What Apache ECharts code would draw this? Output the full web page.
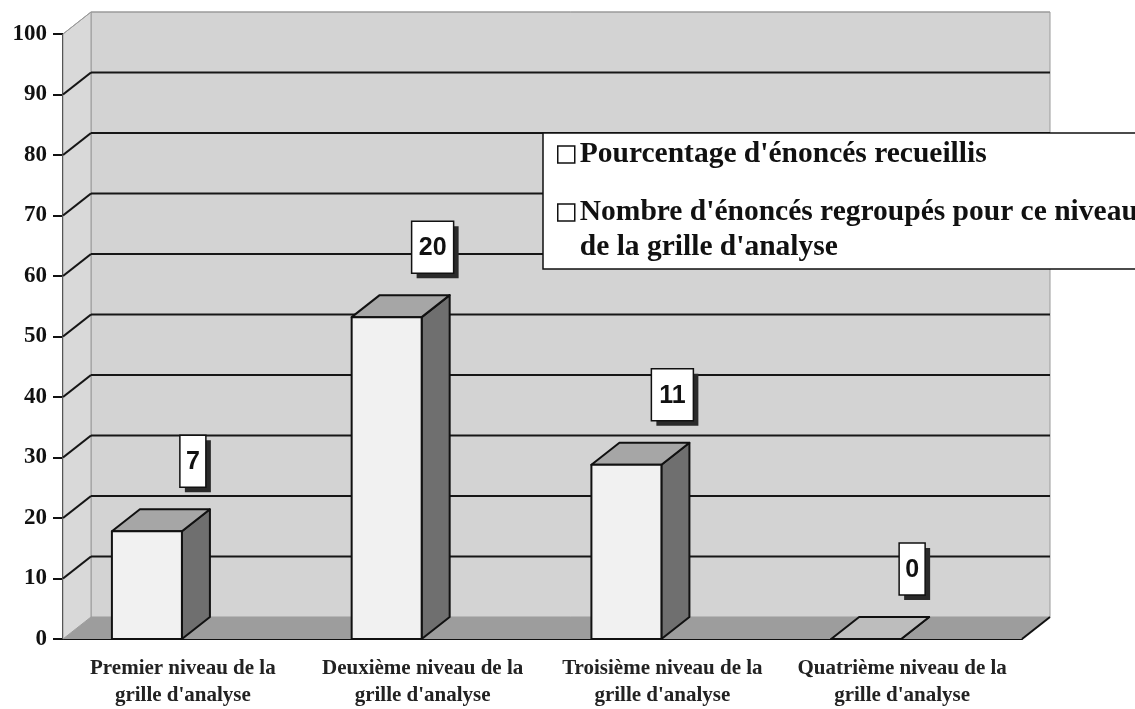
<!DOCTYPE html>
<html lang="fr">
<head>
<meta charset="UTF-8">
<title>Grille d'analyse</title>
<script src="https://cdn.jsdelivr.net/npm/echarts@6/dist/echarts.min.js"></script>
</head>
<body style="margin:0;background:#fff">
<div id="main" style="width:1135px;height:709px;"></div>
<script type="text/javascript">
// categories de l'axe x
var categories = [
    "Premier niveau de la\ngrille d'analyse",
    "Deuxième niveau de la\ngrille d'analyse",
    "Troisième niveau de la\ngrille d'analyse",
    "Quatrième niveau de la\ngrille d'analyse"
];
// hauteur des barres (%)
var pourcentages = [17.8, 53.2, 28.8, 0];
// nombre d'enonces affiche dans les etiquettes
var nombres = [7, 20, 11, 0];
var yTicks = [0, 10, 20, 30, 40, 50, 60, 70, 80, 90, 100];
var nomsSeries = [
    "Pourcentage d'énoncés recueillis",
    "Nombre d'énoncés regroupés pour ce niveau\nde la grille d'analyse"
];

var DX = 28, DY = 22;   // profondeur de la perspective
var serif = "'Liberation Serif', 'Times New Roman', serif";

var myChart = echarts.init(document.getElementById('main'));

// murs, plancher et lignes de quadrillage
function renderMurs(params, api) {
    var v = api.value(0);
    var band = api.size([1, 0])[0];
    var xl = api.coord([0, 0])[0] - band / 2;
    var xr = api.coord([categories.length - 1, 0])[0] + band / 2;
    var y0 = api.coord([0, 0])[1];
    var yt = api.coord([0, 100])[1];
    var y = api.coord([0, v])[1];
    if (v === 0) {
        return {
            type: 'group',
            children: [
                { type: 'polygon', shape: { points: [[xl + DX, yt - DY], [xr + DX, yt - DY], [xr + DX, y0 - DY], [xl + DX, y0 - DY]] },
                  style: { fill: '#d3d3d3', stroke: '#9a9a9a', lineWidth: 1 } },
                { type: 'polygon', shape: { points: [[xl, y0], [xl, yt], [xl + DX, yt - DY], [xl + DX, y0 - DY]] },
                  style: { fill: '#d9d9d9', stroke: '#9a9a9a', lineWidth: 1 } },
                { type: 'polygon', shape: { points: [[xl, y0], [xl + DX, y0 - DY], [xr + DX, y0 - DY], [xr, y0]] },
                  style: { fill: '#9d9d9d' } },
                { type: 'line', shape: { x1: xr, y1: y0, x2: xr + DX, y2: y0 - DY },
                  style: { stroke: '#111', lineWidth: 2 } }
            ]
        };
    }
    var col = v === 100 ? '#9a9a9a' : '#161616';
    var lw = v === 100 ? 1 : 2.2;
    return {
        type: 'group',
        children: [
            { type: 'line', shape: { x1: xl, y1: y, x2: xl + DX, y2: y - DY }, style: { stroke: col, lineWidth: lw } },
            { type: 'line', shape: { x1: xl + DX, y1: y - DY, x2: xr + DX, y2: y - DY }, style: { stroke: col, lineWidth: lw } }
        ]
    };
}

// barres en 3D
function renderBarre(params, api) {
    var i = api.value(0);
    var top = api.coord([i, api.value(1)]);
    var base = api.coord([i, 0]);
    var band = api.size([1, 0])[0];
    var w = band * 0.292;
    var x0 = top[0] - band * 0.296, x1 = x0 + w;
    var yt = top[1], yb = base[1];
    var trait = { stroke: '#111', lineWidth: 2, lineJoin: 'round' };
    return {
        type: 'group',
        children: [
            { type: 'polygon', shape: { points: [[x1, yt], [x1 + DX, yt - DY], [x1 + DX, yb - DY], [x1, yb]] },
              style: Object.assign({ fill: '#6f6f6f' }, trait) },
            { type: 'polygon', shape: { points: [[x0, yt], [x1, yt], [x1 + DX, yt - DY], [x0 + DX, yt - DY]] },
              style: Object.assign({ fill: yb - yt < 1 ? '#bdbdbd' : '#a6a6a6' }, trait) },
            { type: 'rect', shape: { x: x0, y: yt, width: w, height: yb - yt },
              style: Object.assign({ fill: '#f1f1f1' }, trait) }
        ]
    };
}

// etiquettes blanches avec ombre
function renderEtiquette(params, api) {
    var pos = api.coord([api.value(0), api.value(1)]);
    var txt = String(api.value(2));
    var w = 10 + 16 * txt.length, h = 52;
    var cx = pos[0] + 10, cy = pos[1] - 70;
    return {
        type: 'group',
        children: [
            { type: 'rect', shape: { x: cx - w / 2 + 5, y: cy - h / 2 + 5, width: w, height: h }, style: { fill: '#2a2a2a' } },
            { type: 'rect', shape: { x: cx - w / 2, y: cy - h / 2, width: w, height: h }, style: { fill: '#fff', stroke: '#111', lineWidth: 1.5 } },
            { type: 'text', x: cx, y: cy + 1, style: { text: txt, align: 'center', verticalAlign: 'middle',
              font: "bold 25px 'Liberation Sans', Arial, sans-serif", fill: '#111' } }
        ]
    };
}

var option = {
    animation: false,
    backgroundColor: '#fff',
    grid: { left: 63, right: 113, top: 34, bottom: 68 },
    legend: {
        orient: 'vertical',
        left: 543,
        top: 133,
        padding: [4, 40, 4, 14],
        itemGap: -12,
        itemWidth: 17,
        itemHeight: 17,
        icon: 'rect',
        selectedMode: false,
        backgroundColor: '#fff',
        borderColor: '#111',
        borderWidth: 1.5,
        itemStyle: { color: '#fff', borderColor: '#111', borderWidth: 1.5 },
        data: nomsSeries,
        formatter: function (name) {
            return name === nomsSeries[1] ? '\n' + name : name;
        },
        textStyle: { fontFamily: serif, fontWeight: 'bold', fontSize: 29.5, lineHeight: 35, color: '#111' }
    },
    xAxis: {
        type: 'category',
        data: categories,
        axisLine: { lineStyle: { color: '#111', width: 2 } },
        axisTick: { length: 13, lineStyle: { color: '#111', width: 2 } },
        axisLabel: { interval: 0, fontFamily: serif, fontWeight: 'bold', fontSize: 21, lineHeight: 27, color: '#222', margin: 16 }
    },
    yAxis: {
        type: 'value',
        min: 0,
        max: 100,
        interval: 10,
        axisLine: { show: true, lineStyle: { color: '#111', width: 2 } },
        axisTick: { show: true, length: 10, lineStyle: { color: '#111', width: 2 } },
        axisLabel: { fontFamily: serif, fontWeight: 'bold', fontSize: 23, color: '#111', margin: 16 },
        splitLine: { show: false }
    },
    series: [
        {
            type: 'custom',
            name: 'murs',
            silent: true,
            renderItem: renderMurs,
            data: yTicks.map(function (t) { return [t]; }),
            encode: { y: 0 },
            z: 1
        },
        {
            type: 'custom',
            name: nomsSeries[0],
            itemStyle: { color: '#fff' },
            renderItem: renderBarre,
            data: pourcentages.map(function (p, i) { return [i, p]; }),
            encode: { x: 0, y: 1 },
            z: 2
        },
        {
            type: 'custom',
            name: nomsSeries[1],
            itemStyle: { color: '#fff' },
            renderItem: renderEtiquette,
            data: nombres.map(function (n, i) { return [i, pourcentages[i], n]; }),
            encode: { x: 0, y: 1 },
            z: 3
        }
    ]
};
myChart.setOption(option);
</script>
</body>
</html>
